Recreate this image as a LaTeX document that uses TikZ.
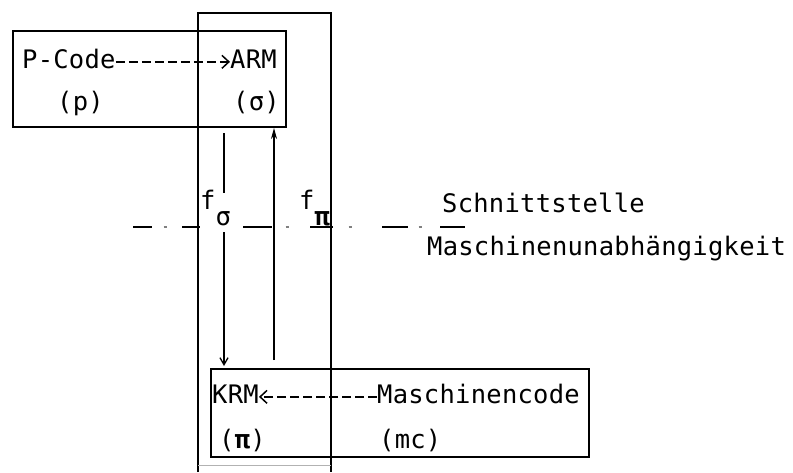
\documentclass[tikz,border=0pt]{standalone}
\usepackage{fontspec}
\newfontfamily\tw[LetterSpace=1]{DejaVu Sans Mono}
\usetikzlibrary{arrows.meta}
\begin{document}
\begin{tikzpicture}[x=1pt,y=-1pt,
  txt/.style={font=\tw\fontsize{25.5}{28}\selectfont, inner sep=0pt, anchor=base west},
  box/.style={draw, line width=1.8pt, inner sep=0pt, anchor=north west},
  frameline/.style={line width=1.6pt},
  flow/.style={line width=1.5pt},
  dashflow/.style={line width=1.8pt, dash pattern=on 9pt off 4pt},
  barb/.style={-{Straight Barb[length=7pt,width=13pt,line width=1.5pt]}},
  cutline/.style={line width=1.8pt},
  cutdot/.style={line width=1.8pt, gray}]
\useasboundingbox[fill=white] (0,0) rectangle (793,472);
% tall frame
\draw[frameline] (198,472) -- (198,13) -- (331,13) -- (331,472);
\draw[line width=1pt, gray!60] (198,465) -- (331,465);
% boxes
\node[box, minimum width=273pt, minimum height=96pt] (topbox) at (12,30) {};
\node[box, minimum width=378pt, minimum height=88pt] (botbox) at (210,368) {};
% texts
\node[txt] (pcode) at (22,68) {P-Code};
\node[txt] (arm) at (230,68) {ARM};
\node[txt] (p) at (57,110) {(p)};
\node[txt] (sig) at (233,110) {(σ)};
\node[txt] (krm) at (212,403) {KRM};
\node[txt] (mcode) at (377,403) {Maschinencode};
\node[txt] (pi) at (219,448) {(\textbf{π})};
\node[txt] (mc) at (379,448) {(mc)};
\node[txt] (schn) at (442,212) {Schnittstelle};
\node[txt] (mun) at (427,255) {Maschinenunabhängigkeit};
\node[txt] (fs) at (200,209) {f\raisebox{-16pt}{σ}};
\node[txt] (fp) at (299,209) {f\raisebox{-16pt}{\textbf{π}}};
% dashed arrows
\draw[dashflow, barb] ([yshift=4pt]pcode.mid east) -- ([yshift=4pt]arm.mid west);
\draw[dashflow, barb] ([yshift=4pt]mcode.mid west) -- ([yshift=4pt]krm.mid east);
% f_sigma (down) and f_pi (up)
\coordinate (d1) at (224,133);
\coordinate (d2) at (224,193);
\coordinate (d3) at (224,232);
\coordinate (d4) at (224,366);
\coordinate (u1) at (274,360);
\coordinate (u2) at (274,128);
\draw[flow] (d1) -- (d2);
\draw[flow, -{Straight Barb[length=7pt,width=8pt,line width=1.3pt]}] (d3) -- (d4);
\draw[flow, -{Stealth[length=11pt,width=6pt]}] (u1) -- (u2);
% dash-dot interface line
\foreach \a/\b in {133/152,182/200,243/272,310/333,382/408,440/465}
  \draw[cutline] (\a,227) -- (\b,227);
\foreach \a in {165,287,350,420}
  \draw[cutdot] (\a-1.5,227) -- (\a+1.5,227);
\end{tikzpicture}
\end{document}
